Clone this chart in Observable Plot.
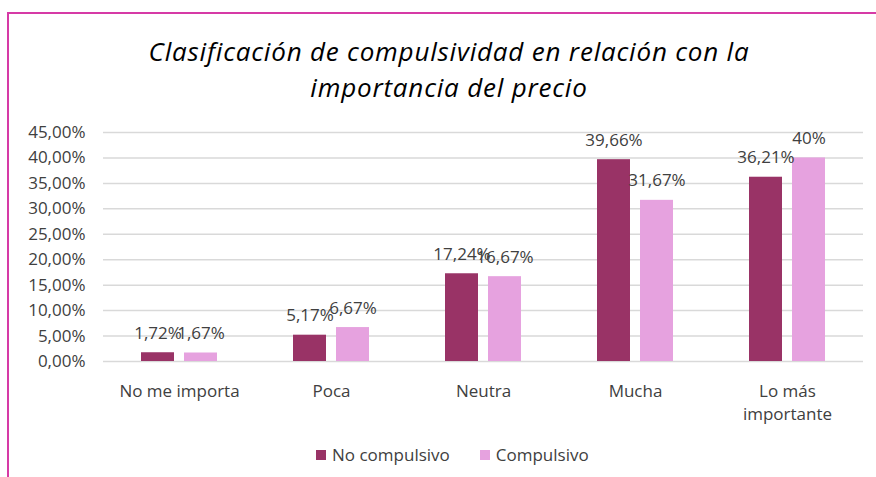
<!DOCTYPE html>
<html><head><meta charset="utf-8">
<script src="https://cdn.jsdelivr.net/npm/d3@7"></script>
<script src="https://cdn.jsdelivr.net/npm/@observablehq/plot@0.6"></script>
<style>
html,body{margin:0;padding:0;background:#fff;}
body{width:876px;height:477px;position:relative;overflow:hidden;font-family:"Open Sans",sans-serif;}
#frame{position:absolute;left:7px;top:12px;width:1000px;height:600px;border-left:2px solid #D63AA6;border-top:2px solid #D63AA6;}
#title{position:absolute;left:0;top:33px;width:898px;text-align:center;font-style:italic;font-size:26px;letter-spacing:0.8px;line-height:36px;color:#000;}
#chart{position:absolute;left:0;top:110px;}
#legend{position:absolute;left:316px;top:444px;display:flex;align-items:center;font-size:17px;color:#404040;line-height:22px;white-space:nowrap}
.item{display:flex;align-items:center}
.sw{display:inline-block;width:10px;height:10px;margin-right:6px}
</style>
</head><body>
<div id="frame"></div>
<div id="title">Clasificación de compulsividad en relación con la<br>importancia del precio</div>
<div id="chart"></div>
<div id="legend"></div>
<script>
const categories = ["No me importa", "Poca", "Neutra", "Mucha", "Lo más importante"];
const categoryLabels = ["No me importa", "Poca", "Neutra", "Mucha", "Lo más\nimportante"];
const series = ["No compulsivo", "Compulsivo"];
const noCompulsivo = [1.72, 5.17, 17.24, 39.66, 36.21];
const compulsivo = [1.67, 6.67, 16.67, 31.67, 40];
const yTicks = [0, 5, 10, 15, 20, 25, 30, 35, 40, 45];
const colors = ["#993366", "#E6A2DF"];

const rows = categories.flatMap((c, i) => [
  {cat: c, series: series[0], value: noCompulsivo[i]},
  {cat: c, series: series[1], value: compulsivo[i]}
]);
const fmt = v => String(v).replace(".", ",") + "%";

const chart = Plot.plot({
  width: 876, height: 330,
  marginTop: 22, marginBottom: 79, marginLeft: 101, marginRight: 12,
  style: {fontFamily: "'Open Sans', sans-serif", fontSize: "17px", color: "#404040", background: "transparent", overflow: "visible"},
  facet: {data: rows, x: "cat"},
  fx: {domain: categories, padding: 0, axis: null},
  x: {domain: series, paddingInner: 0.227, paddingOuter: 0.848, axis: null},
  y: {domain: [0, 45], ticks: yTicks, tickFormat: d => d.toFixed(2).replace(".", ",") + "%", tickSize: 0, tickPadding: 18, label: null},
  color: {domain: series, range: colors},
  marks: [
    Plot.ruleY(yTicks, {stroke: "#D9D9D9", strokeWidth: 1.5, facet: null}),
    Plot.barY(rows, {x: "series", y: "value", fill: "series"}),
    Plot.text(rows, {x: "series", y: "value", text: d => fmt(d.value), dy: -19.5, fill: "#404040"}),
    Plot.text(rows, Plot.selectFirst({text: d => categoryLabels[categories.indexOf(d.cat)], frameAnchor: "bottom", lineAnchor: "top", dy: 19, lineHeight: 1.35, fill: "#404040"}))
  ]
});
document.getElementById("chart").appendChild(chart);

const legend = document.getElementById("legend");
series.forEach((s, i) => {
  const item = document.createElement("div");
  item.className = "item";
  if (i > 0) item.style.marginLeft = "30px";
  const sw = document.createElement("span");
  sw.className = "sw";
  sw.style.background = colors[i];
  const t = document.createElement("span");
  t.textContent = s;
  item.appendChild(sw);
  item.appendChild(t);
  legend.appendChild(item);
});
</script>
</body></html>
